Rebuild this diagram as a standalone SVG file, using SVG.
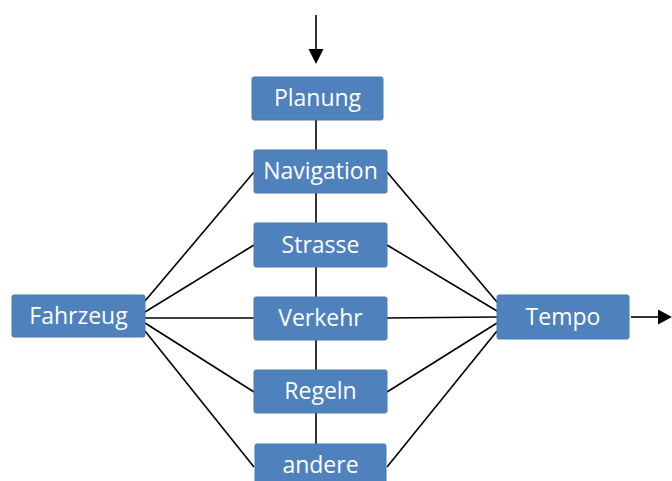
<svg xmlns="http://www.w3.org/2000/svg" width="672" height="481" viewBox="0 0 672 481">
<style>
.box{fill:#4F81BD;stroke:#4A7AB5;stroke-width:1}
.lbl{fill:#fff;font-family:"Open Sans","Liberation Sans",Arial,sans-serif;font-size:23px;text-anchor:middle}
.ln{stroke:#000;stroke-width:1.6;fill:none}
</style>
<rect width="672" height="481" fill="#fff"/>
<g id="connectors">
<line class="ln" x1="316" y1="15" x2="316" y2="52"/>
<path d="M308.5,49 L323.5,49 L316,64 Z" fill="#000"/>
<line class="ln" x1="631" y1="317" x2="660" y2="317"/>
<path d="M658,309.5 L658,324.5 L672,317 Z" fill="#000"/>
<line class="ln" x1="316" y1="120" x2="316" y2="150"/>
<line class="ln" x1="316" y1="193" x2="316" y2="223"/>
<line class="ln" x1="316" y1="267" x2="316" y2="297"/>
<line class="ln" x1="316" y1="340" x2="316" y2="370"/>
<line class="ln" x1="316" y1="413" x2="316" y2="444"/>
<line class="ln" x1="145" y1="301" x2="254" y2="172"/>
<line class="ln" x1="145" y1="312" x2="254" y2="245"/>
<line class="ln" x1="145" y1="318" x2="254" y2="318"/>
<line class="ln" x1="145" y1="323" x2="254" y2="392"/>
<line class="ln" x1="145" y1="331" x2="254" y2="467"/>
<line class="ln" x1="387" y1="172" x2="497" y2="302"/>
<line class="ln" x1="387" y1="245" x2="497" y2="311"/>
<line class="ln" x1="387" y1="318" x2="497" y2="317"/>
<line class="ln" x1="387" y1="392" x2="497" y2="323"/>
<line class="ln" x1="387" y1="467" x2="497" y2="331"/>
</g>
<g id="planung"><rect class="box" x="252" y="77" width="131" height="43" rx="2"/><text class="lbl" x="317.5" y="106">Planung</text></g>
<g id="navigation"><rect class="box" x="254" y="150" width="133" height="43" rx="2"/><text class="lbl" x="320.5" y="179">Navigation</text></g>
<g id="strasse"><rect class="box" x="254" y="223" width="133" height="44" rx="2"/><text class="lbl" x="320.5" y="253">Strasse</text></g>
<g id="verkehr"><rect class="box" x="254" y="297" width="133" height="43" rx="2"/><text class="lbl" x="320.5" y="326">Verkehr</text></g>
<g id="regeln"><rect class="box" x="254" y="370" width="133" height="43" rx="2"/><text class="lbl" x="320.5" y="399">Regeln</text></g>
<g id="andere"><rect class="box" x="255" y="444" width="131" height="43" rx="2"/><text class="lbl" x="320.5" y="473">andere</text></g>
<g id="fahrzeug"><rect class="box" x="12" y="295" width="133" height="42" rx="2"/><text class="lbl" x="78.5" y="324">Fahrzeug</text></g>
<g id="tempo"><rect class="box" x="497" y="295" width="132" height="44" rx="2"/><text class="lbl" x="563" y="325">Tempo</text></g>
</svg>
